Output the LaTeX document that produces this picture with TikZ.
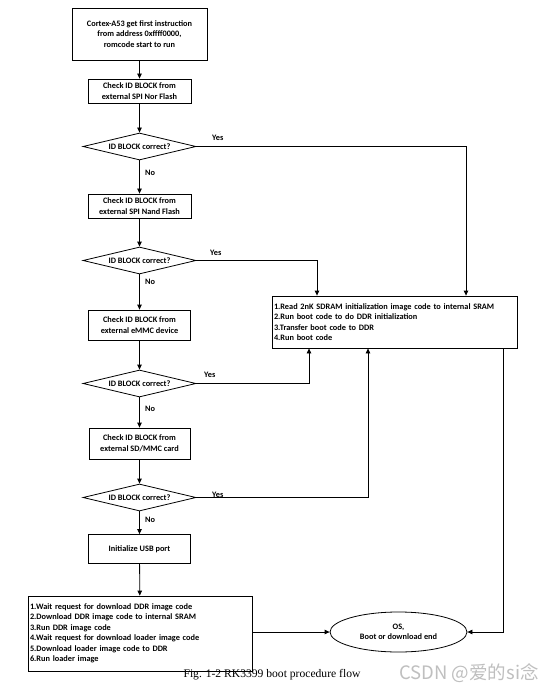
\documentclass[tikz,border=0pt]{standalone}
\usepackage{fontspec}
\setmainfont{Carlito}
\newfontfamily\capfont{Liberation Serif}
\newfontfamily\cjkfont{Noto Sans CJK SC}
\usetikzlibrary{shapes.geometric,arrows.meta}
\begin{document}
\begin{tikzpicture}[x=1pt,y=-1pt,
  every node/.style={font=\bfseries\fontsize{8.3}{10.5}\selectfont},
  box/.style={draw, line width=0.8pt, align=center, inner sep=1pt},
  dec/.style={draw, diamond, aspect=4.2, minimum width=113pt, minimum height=27pt, inner sep=0pt, line width=0.8pt},
  arr/.style={-{Triangle[length=5pt,width=4.5pt]}, line width=0.8pt},
  lbl/.style={inner sep=0pt}]
\useasboundingbox (0,0) rectangle (554,684);
\fill[white] (0,0) rectangle (554,684);

\node[box, minimum width=135pt, minimum height=52pt] (start) at (139.5,34)
  {Cortex-A53 get first instruction\\from address 0xffff0000,\\romcode start to run};
\node[box, minimum width=103pt, minimum height=24pt] (c1) at (139.5,91)
  {Check ID BLOCK from\\external SPI Nor Flash};
\node[dec] (d1) at (139.5,146.5) {ID BLOCK correct?};
\node[box, minimum width=103pt, minimum height=24pt] (c2) at (139.5,206)
  {Check ID BLOCK from\\external SPI Nand Flash};
\node[dec] (d2) at (139.5,260.5) {ID BLOCK correct?};
\node[box, minimum width=102pt, minimum height=30pt] (c3) at (139.5,325)
  {Check ID BLOCK from\\external eMMC device};
\node[dec] (d3) at (139.5,383.5) {ID BLOCK correct?};
\node[box, minimum width=101pt, minimum height=31pt] (c4) at (139.5,443.5)
  {Check ID BLOCK from\\external SD/MMC card};
\node[dec] (d4) at (139.5,497.5) {ID BLOCK correct?};
\node[box, minimum width=102pt, minimum height=29pt] (usb) at (139.5,549)
  {Initialize USB port};
\node[box, minimum width=224pt, minimum height=75pt, text width=220pt, align=left] (dl) at (140,633.5)
  {1.Wait request for download DDR image code\\
   2.Download DDR image code to internal SRAM\\
   3.Run DDR image code\\
   4.Wait request for download loader image code\\
   5.Download loader image code to DDR\\
   6.Run loader image};
\node[box, minimum width=245pt, minimum height=52pt, text width=241pt, align=left] (sram) at (394.5,322)
  {1.Read 2nK SDRAM initialization image code to internal SRAM\\
   2.Run boot code to do DDR initialization\\
   3.Transfer boot code to DDR\\
   4.Run boot code};
\node[draw, ellipse, line width=0.8pt, minimum width=137pt, minimum height=40pt, inner sep=0pt, align=center] (os) at (398.5,632)
  {OS,\\Boot or download end};

% main column
\draw[arr] (start) -- (c1);
\draw[arr] (c1) -- (d1);
\draw[arr] (d1) -- (c2);
\draw[arr] (c2) -- (d2);
\draw[arr] (d2) -- (c3);
\draw[arr] (c3) -- (d3);
\draw[arr] (d3) -- (c4);
\draw[arr] (c4) -- (d4);
\draw[arr] (d4) -- (usb);
\draw[arr] (usb) -- (dl);

% yes branches
\draw[arr] (d1.east) -| ([xshift=71.5pt]sram.north);
\draw[arr] (d2.east) -| ([xshift=-77.5pt]sram.north);
\draw[arr] (d3.east) -| ([xshift=-85.5pt]sram.south);
\draw[arr] (d4.east) -| ([xshift=-26.5pt]sram.south);
\draw[arr] ([xshift=108.5pt]sram.south) |- (os.east);
\draw[arr] (dl.east |- os.west) -- (os.west);

% labels
\node[lbl, anchor=base west] (y1) at (212,141) {Yes};
\node[lbl, anchor=base west] (y2) at (210,255.5) {Yes};
\node[lbl, anchor=base west] (y3) at (204,377.5) {Yes};
\node[lbl, anchor=base west] (y4) at (212,497) {Yes};
\node[lbl, anchor=west] (n1) at (145,173) {No};
\node[lbl, anchor=west] (n2) at (145,282) {No};
\node[lbl, anchor=west] (n3) at (145,409) {No};
\node[lbl, anchor=west] (n4) at (145,520) {No};

\node[font=\capfont\fontsize{11.6}{13}\selectfont, inner sep=0pt] (cap) at (272,675)
  {Fig. 1-2 RK3399 boot procedure flow};
\node[font=\cjkfont\fontsize{18.5}{20}\selectfont, text=gray!50, inner sep=0pt] (wm) at (469,673)
  {CSDN @爱的si念};
\end{tikzpicture}
\end{document}
